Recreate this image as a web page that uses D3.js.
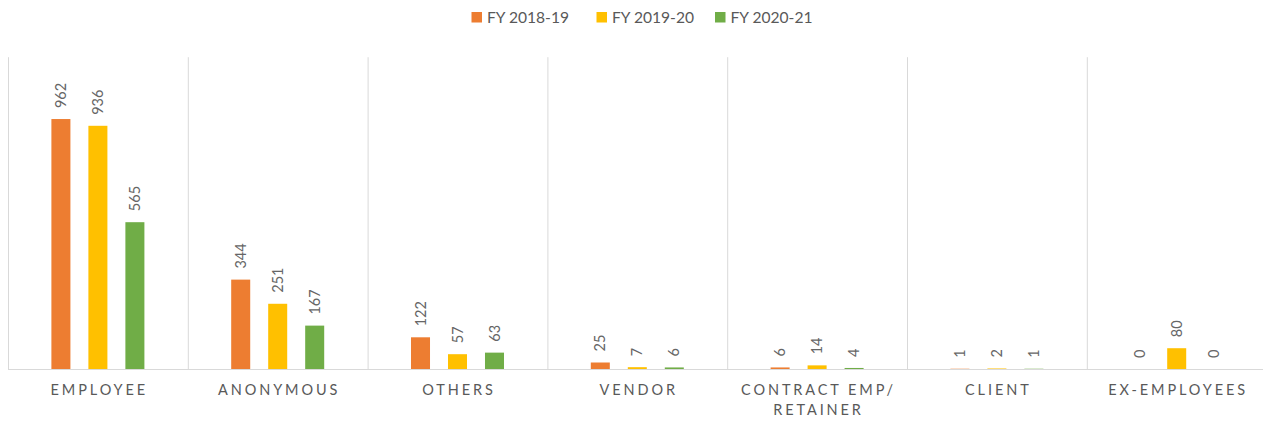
<!DOCTYPE html>
<html>
<head>
<meta charset="utf-8">
<script src="https://cdn.jsdelivr.net/npm/d3@7.9.0/dist/d3.min.js"></script>
<style>
  body { margin: 0; background: #fff; }
  svg { display: block; font-family: Lato, "Open Sans", sans-serif; }
</style>
</head>
<body>
<svg id="chart" width="1263" height="421"></svg>
<script>
// chart data
const categories = ['EMPLOYEE', 'ANONYMOUS', 'OTHERS', 'VENDOR', 'CONTRACT EMP/ RETAINER', 'CLIENT', 'EX-EMPLOYEES'];
const categoryLines = [['EMPLOYEE'], ['ANONYMOUS'], ['OTHERS'], ['VENDOR'], ['CONTRACT EMP/', 'RETAINER'], ['CLIENT'], ['EX-EMPLOYEES']];
const seriesNames = ['FY 2018-19', 'FY 2019-20', 'FY 2020-21'];
const fy1819 = [962, 344, 122, 25, 6, 1, 0];
const fy1920 = [936, 251, 57, 7, 14, 2, 80];
const fy2021 = [565, 167, 63, 6, 4, 1, 0];
const colors = ['#ED7D31', '#FFC000', '#70AD47'];

const seriesValues = [fy1819, fy1920, fy2021];

const svg = d3.select('#chart');
const plotLeft = 8, plotRight = 1266.6, plotTop = 57.2, plotBottom = 369;

let x0 = d3.scaleBand().domain(categories).range([plotLeft, plotRight]).padding(0);
let x1 = d3.scaleBand().domain(seriesNames).range([0, x0.bandwidth()])
  .paddingInner(0.486).paddingOuter(1.173);
let y = d3.scaleLinear().domain([0, 1200]).range([plotBottom, plotTop]);

// vertical separators
let grid = svg.append('g');
categories.forEach((c) => {
  grid.append('line')
    .attr('x1', x0(c) + 0.5).attr('x2', x0(c) + 0.5)
    .attr('y1', plotTop).attr('y2', plotBottom)
    .attr('stroke', '#D9D9D9').attr('stroke-width', 1);
});
grid.append('line')
  .attr('x1', plotLeft).attr('x2', plotRight)
  .attr('y1', plotBottom + 0.5).attr('y2', plotBottom + 0.5)
  .attr('stroke', '#D9D9D9').attr('stroke-width', 1);

// bars + labels
let rows = [];
categories.forEach((c, ci) => {
  seriesNames.forEach((s, si) => {
    rows.push({ cat: c, series: s, si: si, value: seriesValues[si][ci] });
  });
});

svg.append('g').selectAll('rect')
  .data(rows)
  .join('rect')
  .attr('x', (d) => x0(d.cat) + x1(d.series))
  .attr('width', x1.bandwidth())
  .attr('y', (d) => y(d.value))
  .attr('height', (d) => plotBottom - y(d.value))
  .attr('fill', (d) => colors[d.si]);

svg.append('g').selectAll('text')
  .data(rows)
  .join('text')
  .attr('transform', (d) => {
    let cx = x0(d.cat) + x1(d.series) + x1.bandwidth() / 2;
    return `translate(${cx},${y(d.value) - 11}) rotate(-90)`;
  })
  .attr('dy', '0.35em')
  .attr('font-size', 14.5)
  .attr('fill', '#666')
  .text((d) => d.value);

// category labels
const spacing = 2.9;
categories.forEach((c, ci) => {
  let t = svg.append('text')
    .attr('text-anchor', 'middle')
    .attr('font-size', 14.5)
    .attr('letter-spacing', spacing)
    .attr('fill', '#595959');
  categoryLines[ci].forEach((line, li) => {
    t.append('tspan')
      .attr('x', x0(c) + x0.bandwidth() / 2 + spacing / 2)
      .attr('y', 390 + li * 20)
      .attr('dy', '0.35em')
      .text(line);
  });
});

// legend
let legendX = [471.5, 596.5, 715];
let legend = svg.append('g');
seriesNames.forEach((s, i) => {
  legend.append('rect')
    .attr('x', legendX[i]).attr('y', 12)
    .attr('width', 10.5).attr('height', 10.5)
    .attr('fill', colors[i]);
  legend.append('text')
    .attr('x', legendX[i] + 15.5)
    .attr('y', 17.5)
    .attr('dy', '0.35em')
    .attr('font-size', 15.6)
    .attr('fill', '#595959')
    .text(s);
});
</script>
</body>
</html>
